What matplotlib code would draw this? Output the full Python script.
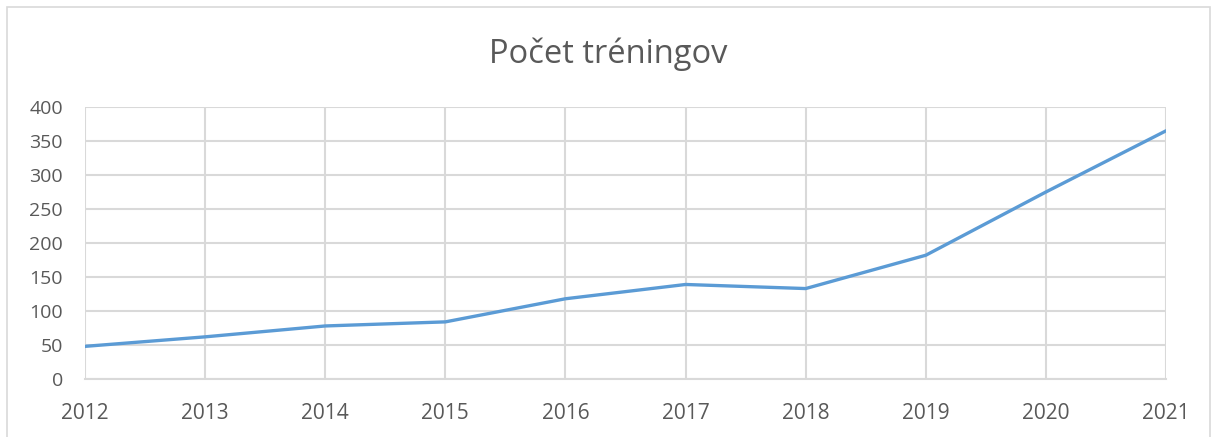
import matplotlib
matplotlib.use('Agg')
from matplotlib import pyplot as plt
from matplotlib.patches import Rectangle

years = [2012, 2013, 2014, 2015, 2016, 2017, 2018, 2019, 2020, 2021]
counts = [48, 62, 78, 84, 118, 139, 133, 182, 275, 365]
title = 'Počet tréningov'

plt.rcParams['font.family'] = ['Open Sans', 'DejaVu Sans']

W, H = 1217, 437
fig = plt.figure(figsize=(W / 100, H / 100), dpi=100)
ax = fig.add_axes([85 / W, 1 - 379 / H, (1166 - 85) / W, (379 - 107) / H])

grid_c = '#d9d9d9'
text_c = '#595959'

ax.plot(years, counts, color='#5b9bd5', lw=2.4, solid_capstyle='round', zorder=3)

ax.set_xlim(years[0], years[-1])
ax.set_ylim(0, 400)
ax.set_xticks(years)
ax.set_yticks(range(0, 401, 50))
ax.grid(True, color=grid_c, lw=1.5)
ax.set_axisbelow(True)
for s in ax.spines.values():
    s.set_visible(False)
ax.spines['bottom'].set_visible(True)
ax.spines['bottom'].set_color(grid_c)
ax.spines['bottom'].set_linewidth(1.5)
ax.tick_params(length=0, colors=text_c)
ax.tick_params(axis='y', pad=16, labelsize=14)
ax.tick_params(axis='x', pad=17, labelsize=15)

fig.text(0.5, 1 - 54 / H, title, ha='center', va='center', fontsize=23.5, color=text_c)

# chart area border
fig.patches.append(Rectangle((7 / W, -0.1), (1210 - 7) / W, 1.1 - 7 / H,
                             transform=fig.transFigure, fill=False,
                             edgecolor=grid_c, lw=1.2))

fig.savefig('out.png', dpi=100)
